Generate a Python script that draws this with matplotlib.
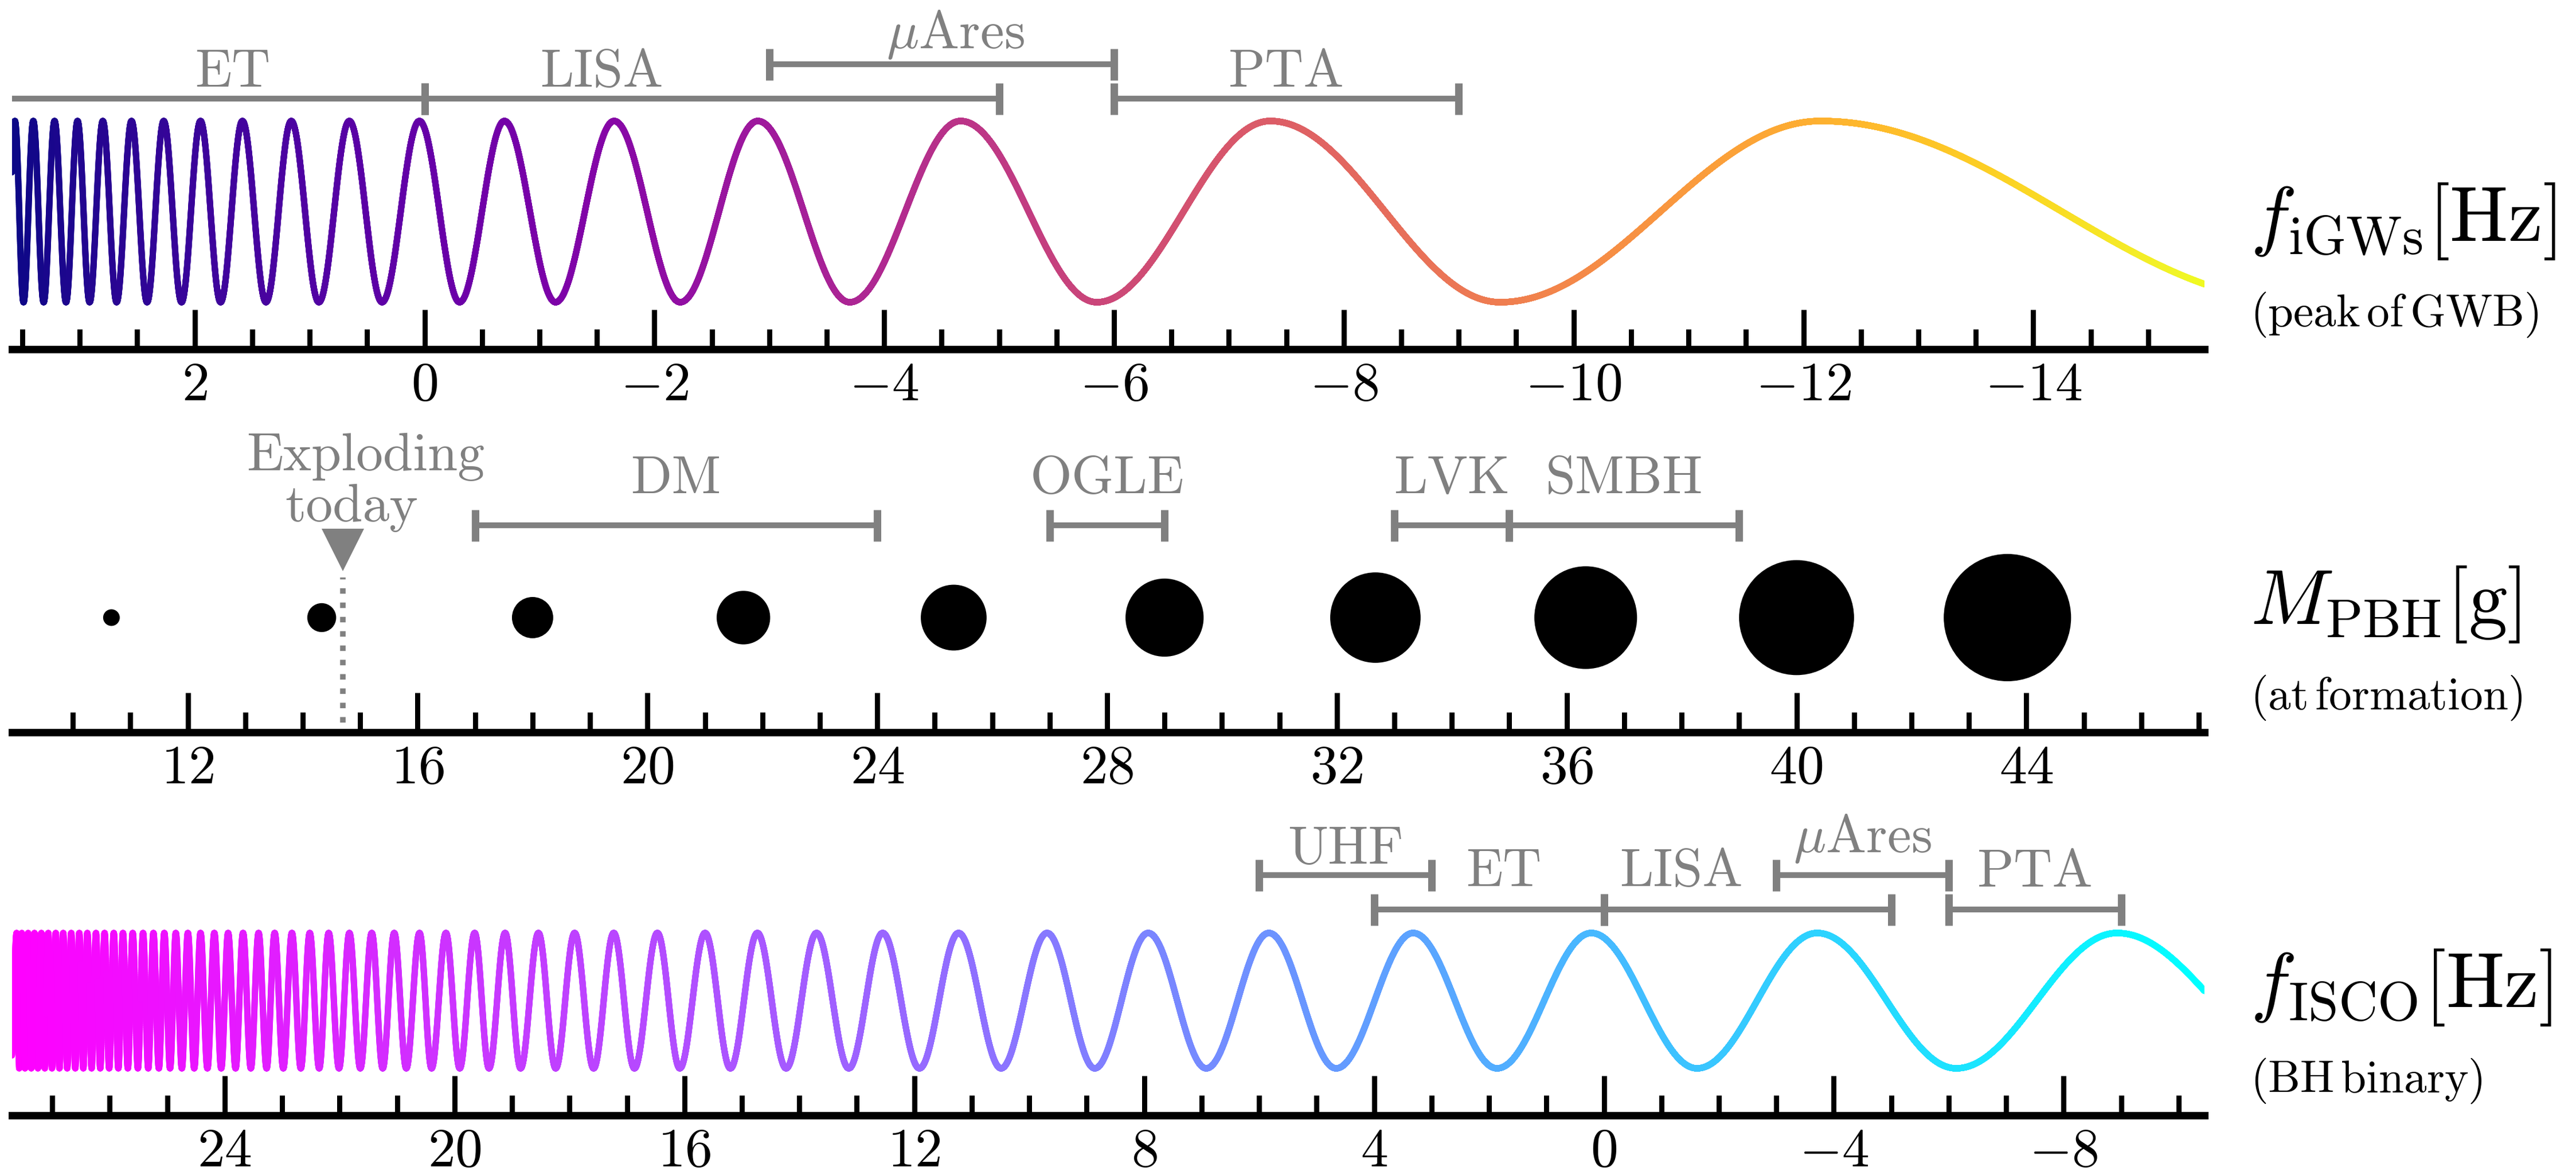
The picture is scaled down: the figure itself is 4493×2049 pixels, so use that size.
import numpy as np
import matplotlib
matplotlib.use("Agg")
import matplotlib.pyplot as plt
from matplotlib.collections import LineCollection
from matplotlib.ticker import FixedLocator

plt.rcParams["mathtext.fontset"] = "cm"
plt.rcParams["font.family"] = "cmr10"
plt.rcParams["axes.formatter.use_mathtext"] = True

GRAY = "#808080"

# ---- top row: log10 peak frequency of induced GWs [Hz] ----
igw_lim = (3.59, -15.49)
igw_major = [2, 0, -2, -4, -6, -8, -10, -12, -14]
igw_minor = list(np.arange(3.5, -15.01, -0.5))
# crest / trough positions of the chirp drawn along the axis
igw_peaks = [3.565, 3.405, 3.22, 3.02, 2.80, 2.55, 2.27, 1.95, 1.585, 1.16,
             0.655, 0.045, -0.695, -1.65, -2.90, -4.665, -7.36, -12.15]
igw_troughs = [3.635, 3.49, 3.315, 3.12, 2.915, 2.68, 2.415, 2.115, 1.775,
               1.38, 0.92, 0.37, -0.305, -1.14, -2.225, -3.70, -5.85, -9.36,
               -16.35]
igw_bands = ["ET", "LISA", r"$\mu$Ares", "PTA"]
igw_band_lo = [0, -5, -6, -9]
igw_band_hi = [4, 0, -3, -6]
igw_band_row = [0, 0, 1, 0]
igw_label_at = [1.67, -1.54, -4.62, -7.5]

# ---- middle row: log10 PBH mass at formation [g] ----
pbh_lim = (8.94, 47.1)
pbh_major = [12, 16, 20, 24, 28, 32, 36, 40, 44]
pbh_minor = list(range(10, 48))
pbh_masses = [10.67, 14.33, 18.0, 21.67, 25.33, 29.0, 32.67, 36.33, 40.0, 43.67]
pbh_exploding = 14.7
pbh_bands = ["DM", "OGLE", "LVK", "SMBH"]
pbh_band_lo = [17, 27, 33, 35]
pbh_band_hi = [24, 29, 35, 39]
pbh_label_at = [20.5, 28.0, 34.0, 37.0]

# ---- bottom row: log10 ISCO frequency of a BH binary [Hz] ----
isco_lim = (27.7, -10.45)
isco_major = [24, 20, 16, 12, 8, 4, 0, -4, -8]
isco_minor = list(range(27, -11, -1))
isco_peaks = [27.62, 27.53, 27.42, 27.31, 27.19, 27.07, 26.94, 26.81, 26.67,
              26.53, 26.39, 26.24, 26.09, 25.93, 25.77, 25.60, 25.42, 25.24,
              25.05, 24.85, 24.64, 24.42, 24.18, 23.94, 23.68, 23.41, 23.13,
              22.83, 22.52, 22.19, 21.83, 21.44, 21.05, 20.61, 20.15, 19.65,
              19.12, 18.54, 17.91, 17.23, 16.47, 15.64, 14.73, 13.70, 12.55,
              11.23, 9.69, 7.93, 5.83, 3.32, 0.22, -3.71, -8.93]
isco_troughs = [27.72, 21.64, 21.25, 20.84, 20.40, 19.91, 19.40, 18.85, 18.24,
                17.58, 16.87, 16.08, 15.20, 14.23, 13.14, 11.91, 10.49, 8.86,
                6.92, 4.66, 1.86, -1.62, -6.13, -12.28]
isco_bands = ["UHF", "ET", "LISA", r"$\mu$Ares", "PTA"]
isco_band_lo = [3, 0, -5, -6, -9]
isco_band_hi = [6, 4, 0, -3, -6]
isco_band_row = [1, 0, 0, 1, 0]
isco_label_at = [4.5, 1.74, -1.35, -4.5, -7.5]

# ---- layout (pixels) ----
W, H, DPI = 4493, 2049, 300
X0, X1 = 21, 3845
PANEL_H = 600
PX = 72.0 / DPI  # points per pixel

fig = plt.figure(figsize=(W / DPI, H / DPI), dpi=DPI)


def panel(spine_y, lim, major, minor):
    ax = fig.add_axes([X0 / W, (H - spine_y) / H, (X1 - X0) / W, PANEL_H / H])
    ax.patch.set_visible(False)
    ax.set_xlim(*lim)
    ax.set_ylim(0, PANEL_H)
    for s in ("left", "right", "top"):
        ax.spines[s].set_visible(False)
    ax.spines["bottom"].set_linewidth(13 * PX)
    ax.set_yticks([])
    ax.set_xticks(major)
    ax.set_xticklabels([f"${v}$" for v in major])
    ax.xaxis.set_minor_locator(FixedLocator(minor))
    ax.tick_params(axis="x", which="major", direction="in", length=69 * PX,
                   width=9 * PX, labelsize=23, pad=5.5)
    ax.tick_params(axis="x", which="minor", direction="in", length=35 * PX,
                   width=9 * PX)
    return ax


def chirp(ax, lim, peaks, troughs, mid, amp, cmap):
    vals = np.array(peaks + troughs, dtype=float)
    kinds = np.array([0] * len(peaks) + [1] * len(troughs))
    order = np.argsort(-vals)
    phase, k = [], -1
    for kind in kinds[order]:
        if kind == 0:
            k += 1
            phase.append(2 * np.pi * k)
        else:
            phase.append(2 * np.pi * k + np.pi)
    x = np.linspace(lim[0], lim[1], 40000)
    y = mid + amp * np.cos(np.interp(-x, -vals[order], phase))
    pts = np.column_stack([x, y]).reshape(-1, 1, 2)
    segs = np.concatenate([pts[:-1], pts[1:]], axis=1)
    cols = plt.get_cmap(cmap)(np.linspace(0, 1, len(segs)))
    ax.add_collection(LineCollection(segs, colors=cols, linewidths=11 * PX,
                                     capstyle="round", joinstyle="round"))


def bands(ax, lo, hi, rows, row_y):
    for a, b, r in zip(lo, hi, rows):
        y = row_y[r]
        ax.plot([a, b], [y, y], color=GRAY, lw=10 * PX, solid_capstyle="butt")
        ax.vlines([a, b], y - 27.5, y + 27.5, color=GRAY, lw=13 * PX)


def band_labels(ax, names, xs, ys):
    for name, x, y in zip(names, xs, ys):
        ax.text(x, y, name, color=GRAY, fontsize=22.5, ha="center",
                va="baseline")


def side_label(ax, main, sub):
    tr = ax.get_yaxis_transform()
    xa = (3925 - X0) / (X1 - X0)
    ax.text(xa, 189, main, transform=tr, fontsize=32.5, ha="left",
            va="baseline", clip_on=False)
    ax.text(xa, 40, sub, transform=tr, fontsize=19, ha="left",
            va="baseline", clip_on=False)


# top row
ax1 = panel(609, igw_lim, igw_major, igw_minor)
chirp(ax1, igw_lim, igw_peaks, igw_troughs, 240, 158, "plasma")
bands(ax1, igw_band_lo, igw_band_hi, igw_band_row, {0: 437, 1: 497})
band_labels(ax1, igw_bands, igw_label_at,
            [525 if r else 458 for r in igw_band_row])
side_label(ax1, r"$f_{\mathrm{iGWs}}[\mathrm{Hz}]$",
           r"$(\mathrm{peak\,of\,GWB})$")

# middle row
ax2 = panel(1277, pbh_lim, pbh_major, pbh_minor)
diam = [5.85 * (m - 5.71) * PX for m in pbh_masses]
ax2.scatter(pbh_masses, [200] * len(pbh_masses), s=np.square(diam),
            color="black", linewidths=0, zorder=3)
ax2.plot([pbh_exploding, pbh_exploding], [17, 270], color=GRAY,
         lw=9.6 * PX, ls=(0, (1, 1.6)), dash_capstyle="butt")
ax2.plot([pbh_exploding], [318], marker="v", ms=74 * PX, color=GRAY,
         markeredgewidth=0)
ax2.text(15.09, 457, "Exploding", color=GRAY, fontsize=22.5, ha="center",
         va="baseline")
ax2.text(14.85, 368, "today", color=GRAY, fontsize=22.5, ha="center",
         va="baseline")
bands(ax2, pbh_band_lo, pbh_band_hi, [0] * 4, {0: 361})
band_labels(ax2, pbh_bands, pbh_label_at, [417] * 4)
side_label(ax2, r"$M_{\mathrm{PBH}}[\mathrm{g}]$",
           r"$(\mathrm{at\,formation})$")

# bottom row
ax3 = panel(1945, isco_lim, isco_major, isco_minor)
chirp(ax3, isco_lim, isco_peaks, isco_troughs, 200, 118, "cool_r")
bands(ax3, isco_band_lo, isco_band_hi, isco_band_row, {0: 359, 1: 419})
band_labels(ax3, isco_bands, isco_label_at, [439, 400, 400, 459, 399])
side_label(ax3, r"$f_{\mathrm{ISCO}}[\mathrm{Hz}]$",
           r"$(\mathrm{BH\,binary})$")

fig.savefig("out.png", dpi=DPI)
